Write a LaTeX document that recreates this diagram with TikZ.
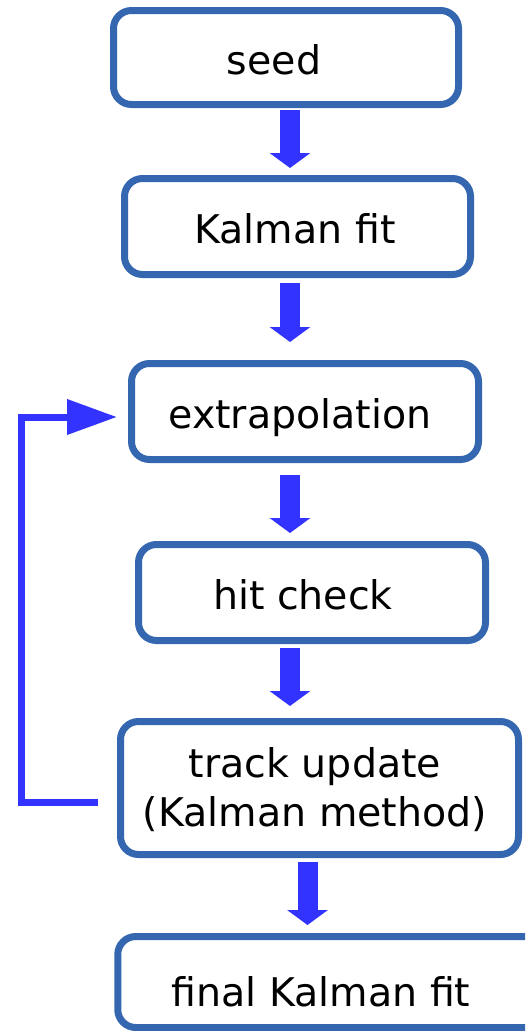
\documentclass[tikz,border=0pt]{standalone}
\usepackage{fontspec}
\setmainfont{DejaVu Sans}
\usetikzlibrary{arrows.meta,calc}
\definecolor{boxc}{HTML}{3467B0}
\definecolor{arrc}{HTML}{3333FF}
\begin{document}
\begin{tikzpicture}[x=1pt,y=-1pt,
  stage/.style={draw=boxc, line width=7pt, rounded corners=18pt, fill=white, inner sep=0pt},
  txt/.style={font=\fontsize{39.5}{49}\selectfont, text height=40pt, text depth=7pt, align=center, inner sep=0pt, text=black},
  flow/.style={draw=arrc, line width=20pt, -{Triangle[width=40pt,length=15pt]}},
  loopline/.style={draw=arrc, line width=7pt, line join=miter, -{Triangle[width=34pt,length=50pt]}}]
\useasboundingbox (0,0) rectangle (525,1031);
\clip (0,0) rectangle (525,1031);

\node[stage, minimum width=345pt, minimum height=94pt,
      label={[txt,xshift=-12pt]center:seed}] (seed) at (286,57.5) {};
\node[stage, minimum width=346pt, minimum height=96pt,
      label={[txt,xshift=-2.5pt]center:Kalman fit}] (kal) at (297.5,226.5) {};
\node[stage, minimum width=347pt, minimum height=96pt,
      label={[txt,xshift=-5pt]center:extrapolation}] (ext) at (305,411.5) {};
\node[stage, minimum width=347pt, minimum height=96pt,
      label={[txt,xshift=-9pt]center:hit check}] (hit) at (312,592.5) {};
\node[stage, minimum width=398pt, minimum height=133pt,
      label={[txt,xshift=-4.5pt,yshift=-22pt]center:{track update\\(Kalman method)}}] (tu) at (319.5,788) {};
\node[stage, minimum width=442pt, minimum height=91pt,
      label={[txt,xshift=-17.75pt,yshift=-8pt]center:final Kalman fit}] (fin) at (338.75,982) {};

\coordinate (c1) at (290,0);
\coordinate (c5) at (307.5,0);
\draw[flow, shorten <=2pt, shorten >=7pt] (seed.south -| c1) -- (kal.north -| c1);
\draw[flow, shorten <=5pt, shorten >=18pt] (kal.south -| c1) -- (ext.north -| c1);
\draw[flow, shorten <=12pt, shorten >=8pt] (ext.south -| c1) -- (hit.north -| c1);
\draw[flow, shorten <=4pt, shorten >=12pt] (hit.south -| c1) -- (tu.north -| c1);
\draw[flow, shorten <=4pt, shorten >=8pt] (tu.south -| c5) -- (fin.north -| c5);

\coordinate (lp) at (98,802);
\coordinate (lx) at (21,0);
\draw[loopline, shorten >=11pt] (lp) -- (lx |- lp) -- (lx |- {$(ext.west)+(0,5.5)$}) -- ($(ext.west)+(0,5.5)$);
\end{tikzpicture}
\end{document}
